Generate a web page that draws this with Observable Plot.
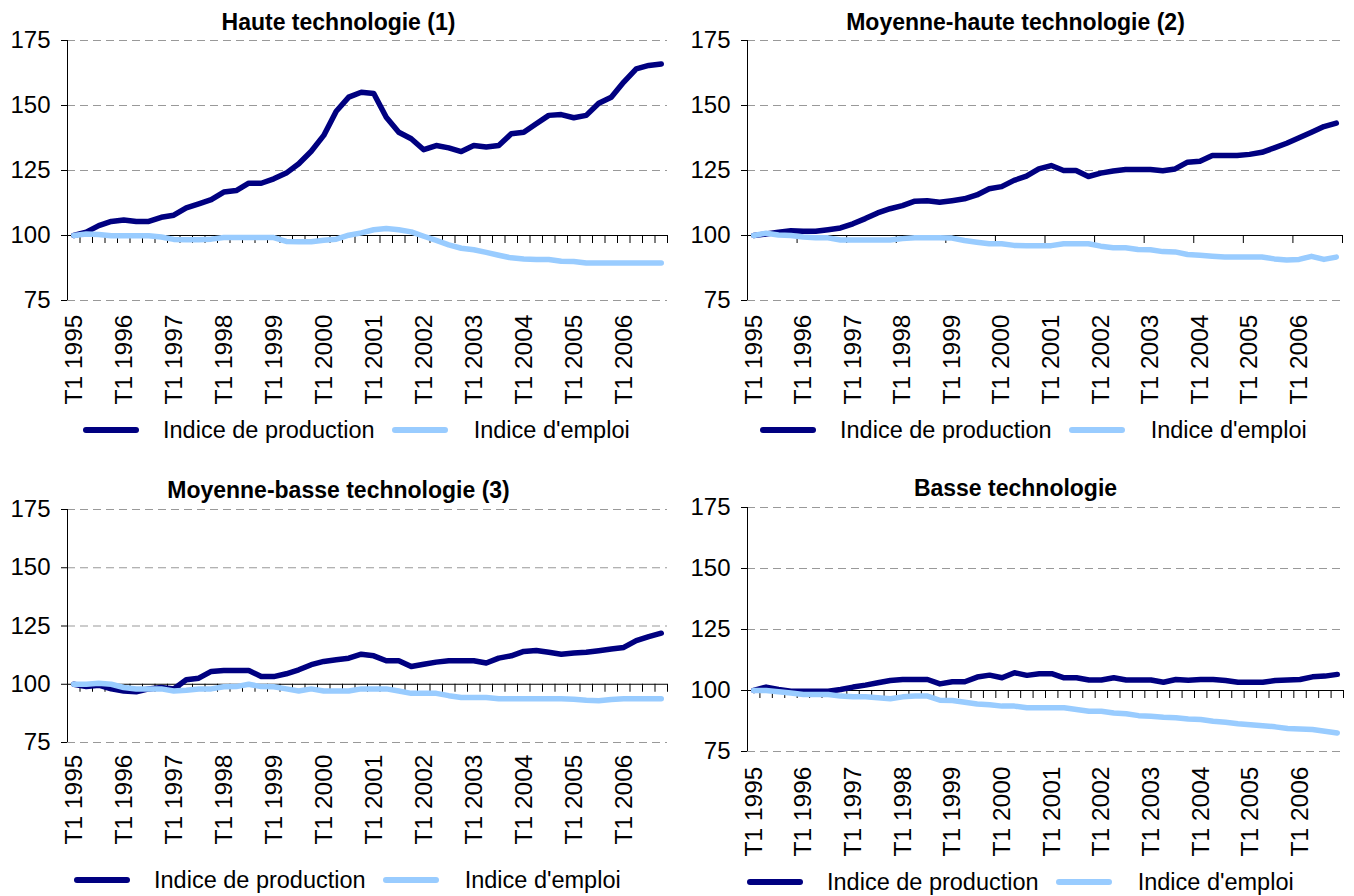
<!DOCTYPE html>
<html>
<head>
<meta charset="utf-8">
<script src="https://cdn.jsdelivr.net/npm/d3@7"></script>
<script src="https://cdn.jsdelivr.net/npm/@observablehq/plot@0.6"></script>
<style>
html, body { margin: 0; padding: 0; background: #fff; }
#root { position: relative; width: 1354px; height: 896px; overflow: hidden; font-family: "Liberation Sans", Arial, sans-serif; color: #000; background: #fff; }
.panel { position: absolute; }
.title { position: absolute; width: 677px; text-align: center; font-weight: bold; font-size: 23px; line-height: 24px; white-space: nowrap; }
.legend { position: absolute; display: flex; align-items: center; font-size: 23.5px; line-height: 24px; height: 24px; white-space: nowrap; }
.legend svg { display: block; }
</style>
</head>
<body>
<div id="root"></div>
<script>
// ---- categories (quarters) ----
const quarters = [
  "T1 1995","T2 1995","T3 1995","T4 1995",
  "T1 1996","T2 1996","T3 1996","T4 1996",
  "T1 1997","T2 1997","T3 1997","T4 1997",
  "T1 1998","T2 1998","T3 1998","T4 1998",
  "T1 1999","T2 1999","T3 1999","T4 1999",
  "T1 2000","T2 2000","T3 2000","T4 2000",
  "T1 2001","T2 2001","T3 2001","T4 2001",
  "T1 2002","T2 2002","T3 2002","T4 2002",
  "T1 2003","T2 2003","T3 2003","T4 2003",
  "T1 2004","T2 2004","T3 2004","T4 2004",
  "T1 2005","T2 2005","T3 2005","T4 2005",
  "T1 2006","T2 2006","T3 2006","T4 2006"
];
const xTickLabels = ["T1 1995","T1 1996","T1 1997","T1 1998","T1 1999","T1 2000",
                     "T1 2001","T1 2002","T1 2003","T1 2004","T1 2005","T1 2006"];
const yTicks = [75, 100, 125, 150, 175];
const gridValues = [75, 125, 150, 175];
const seriesNames = ["Indice de production", "Indice d'emploi"];
const seriesColors = ["#000080", "#99CCFF"];
const panelTitles = ["Haute technologie (1)", "Moyenne-haute technologie (2)",
                     "Moyenne-basse technologie (3)", "Basse technologie"];

// ---- series values ----
const prodHaute = [100, 101.3, 103.8, 105.4, 106, 105.4, 105.4, 107, 107.8, 110.6,
  112.2, 113.8, 116.7, 117.3, 120.1, 120.1, 121.8, 124, 127.6, 132.4,
  138.5, 147.8, 153.2, 155.1, 154.6, 145.5, 139.7, 137.2, 133, 134.6,
  133.7, 132.3, 134.6, 134, 134.6, 139.1, 139.7, 143, 146.2, 146.5,
  145.3, 146.2, 150.9, 153.2, 159, 164.1, 165.4, 166];
const empHaute = [100, 100.6, 100.4, 99.9, 99.9, 99.9, 99.9, 99.4, 98.5, 98.4,
  98.4, 98.6, 99.2, 99.2, 99.2, 99.2, 99.2, 97.7, 97.6, 97.6,
  98.2, 98.6, 100.1, 101, 102.2, 102.7, 102.2, 101.4, 99.7, 98.1,
  96.4, 95.1, 94.5, 93.5, 92.4, 91.4, 91, 90.8, 90.8, 90.1,
  90, 89.4, 89.4, 89.4, 89.4, 89.4, 89.4, 89.4];

const prodMoyHaute = [100, 100.6, 101.3, 101.8, 101.6, 101.6, 102.2, 102.9, 104.5, 106.5,
  108.7, 110.3, 111.5, 113.2, 113.4, 112.8, 113.4, 114.1, 115.6, 118,
  118.8, 121.2, 122.8, 125.6, 126.9, 125, 125, 122.7, 124, 124.8,
  125.4, 125.4, 125.4, 124.9, 125.6, 128.2, 128.6, 130.8, 130.8, 130.8,
  131.2, 132, 133.7, 135.5, 137.6, 139.7, 141.9, 143.2];
const empMoyHaute = [100, 100.9, 100.2, 100, 99.4, 99.1, 99.1, 98.3, 98.3, 98.3,
  98.3, 98.3, 98.8, 99.1, 99.1, 99.1, 99, 98.1, 97.4, 96.8,
  96.8, 96.2, 96.1, 96.1, 96.1, 96.8, 96.8, 96.8, 95.9, 95.3,
  95.3, 94.6, 94.5, 93.8, 93.7, 92.7, 92.4, 92, 91.7, 91.7,
  91.7, 91.7, 91, 90.6, 90.8, 92, 90.8, 91.7];

const prodMoyBasse = [100, 99, 99.6, 98, 97.1, 96.8, 98, 98.6, 98, 101.9,
  102.6, 105.5, 105.9, 105.9, 105.9, 103.3, 103.3, 104.5, 106.2, 108.4,
  109.8, 110.5, 111.2, 112.9, 112.2, 110.1, 110.1, 107.6, 108.6, 109.5,
  110.1, 110.1, 110.1, 109.1, 111.2, 112.2, 114.1, 114.5, 113.7, 112.9,
  113.4, 113.7, 114.4, 115.1, 115.8, 118.7, 120.4, 121.9];
const empMoyBasse = [100, 100, 100.4, 100, 98.6, 98, 98, 98, 97.1, 97.4,
  98, 98, 98.9, 99, 100, 99, 98.9, 98, 97.1, 98,
  97.1, 97.1, 97.1, 98, 98, 98, 97.1, 96.1, 96.1, 96.1,
  95.1, 94.3, 94.3, 94.3, 93.8, 93.8, 93.8, 93.8, 93.8, 93.8,
  93.6, 93.1, 92.9, 93.5, 93.8, 93.8, 93.8, 93.8];

const prodBasse = [100, 101.4, 100.4, 99.7, 99.7, 99.7, 99.7, 100.4, 101.4, 102.2,
  103.2, 104.1, 104.5, 104.5, 104.5, 102.7, 103.6, 103.6, 105.5, 106.3,
  105.2, 107.3, 106.2, 106.9, 106.9, 105.2, 105.2, 104.3, 104.3, 105.2,
  104.3, 104.3, 104.3, 103.4, 104.5, 104.2, 104.5, 104.5, 104.1, 103.4,
  103.4, 103.4, 104.1, 104.3, 104.5, 105.6, 105.9, 106.6];
const empBasse = [100, 100, 99.5, 99, 98.4, 98.4, 98.4, 97.7, 97.4, 97.4,
  97, 96.6, 97.4, 97.7, 97.7, 96, 95.9, 95.2, 94.5, 94.2,
  93.6, 93.6, 92.9, 92.9, 92.9, 92.9, 92.2, 91.5, 91.5, 90.8,
  90.5, 89.7, 89.4, 89, 88.8, 88.3, 88.1, 87.4, 87, 86.4,
  86, 85.6, 85.1, 84.4, 84.2, 84, 83.3, 82.6];

// ---- panel layout ----
const panels = [
  {title: panelTitles[0], prod: prodHaute, emp: empHaute, tickEvery: 1,
   left: 0, top: 0, width: 677, height: 410, mL: 67, mR: 10, mT: 40, mB: 110, pad: 14,
   titleTop: 10, legendLeft: 83, legendY: 430},
  {title: panelTitles[1], prod: prodMoyHaute, emp: empMoyHaute, tickEvery: 4,
   left: 677, top: 0, width: 677, height: 410, mL: 70, mR: 12, mT: 40, mB: 110, pad: 14,
   titleTop: 10, legendLeft: 760, legendY: 430},
  {title: panelTitles[2], prod: prodMoyBasse, emp: empMoyBasse, tickEvery: 1,
   left: 0, top: 450, width: 677, height: 400, mL: 67, mR: 10, mT: 59, mB: 108, pad: 12,
   titleTop: 478, legendLeft: 74, legendY: 880},
  {title: panelTitles[3], prod: prodBasse, emp: empBasse, tickEvery: 1,
   left: 677, top: 450, width: 677, height: 400, mL: 70, mR: 11, mT: 57, mB: 99, pad: 15,
   titleTop: 476, legendLeft: 747, legendY: 882}
];

const root = document.getElementById("root");
const labelIdx = xTickLabels.map(l => quarters.indexOf(l));

function makePlot(p) {
  const rows = quarters.map((q, i) => ({i, q, prod: p.prod[i], emp: p.emp[i]}));
  const bounds = quarters.map((q, i) => i + 0.5).filter((b, i) => (i + 1) % p.tickEvery === 0);
  const svg = Plot.plot({
    width: p.width, height: p.height,
    marginLeft: p.mL, marginRight: p.mR, marginTop: p.mT, marginBottom: p.mB,
    style: {fontFamily: '"Liberation Sans", Arial, sans-serif', fontSize: "23px", color: "#000", background: "none", overflow: "visible"},
    x: {domain: [-0.5, quarters.length - 0.5], axis: null},
    y: {domain: [75, 175], axis: null},
    marks: [
      Plot.ruleY(gridValues, {stroke: "#999999", strokeWidth: 1, strokeDasharray: "8,5"}),
      Plot.ruleX([-0.5], {stroke: "#000", strokeWidth: 1}),
      Plot.axisY({ticks: yTicks, tickSize: 6, tickPadding: 11, label: null, stroke: "#000"}),
      Plot.ruleY([100], {stroke: "#000", strokeWidth: 1}),
      Plot.ruleX(bounds, {x: d => d, y1: 100, y2: 100, insetBottom: -8, stroke: "#000", strokeWidth: 1}),
      Plot.axisX({ticks: labelIdx, tickFormat: i => quarters[i], tickRotate: -90, tickSize: 0,
                  tickPadding: p.pad, label: null}),
      Plot.line(rows, {x: "i", y: "prod", stroke: seriesColors[0], strokeWidth: 5.5}),
      Plot.line(rows, {x: "i", y: "emp", stroke: seriesColors[1], strokeWidth: 5.5})
    ]
  });
  // text sizes of the two axes (rotated labels are the x axis)
  d3.select(svg).selectAll("text").each(function () {
    const tr = this.getAttribute("transform") || "";
    const parentTr = (this.parentNode && this.parentNode.getAttribute && this.parentNode.getAttribute("transform")) || "";
    if (tr.includes("rotate") || parentTr.includes("rotate")) {
      this.style.fontSize = "24.5px";
    } else {
      this.style.fontSize = "24px";
    }
  });
  return svg;
}

function makeLegend(left, cy) {
  const div = document.createElement("div");
  div.className = "legend";
  div.style.left = left + "px";
  div.style.top = (cy - 12) + "px";
  const ns = "http://www.w3.org/2000/svg";
  seriesNames.forEach((name, k) => {
    const svg = document.createElementNS(ns, "svg");
    svg.setAttribute("width", 56);
    svg.setAttribute("height", 10);
    svg.style.marginRight = (k === 0 ? 24 : 26) + "px";
    if (k > 0) svg.style.marginLeft = "17px";
    const line = document.createElementNS(ns, "line");
    line.setAttribute("x1", 3); line.setAttribute("x2", 53);
    line.setAttribute("y1", 5); line.setAttribute("y2", 5);
    line.setAttribute("stroke", seriesColors[k]);
    line.setAttribute("stroke-width", 6);
    line.setAttribute("stroke-linecap", "round");
    svg.appendChild(line);
    div.appendChild(svg);
    const span = document.createElement("span");
    span.textContent = name;
    div.appendChild(span);
  });
  return div;
}

panels.forEach(p => {
  const wrap = document.createElement("div");
  wrap.className = "panel";
  wrap.style.left = p.left + "px";
  wrap.style.top = p.top + "px";
  wrap.appendChild(makePlot(p));
  root.appendChild(wrap);

  const t = document.createElement("div");
  t.className = "title";
  t.style.left = p.left + "px";
  t.style.top = p.titleTop + "px";
  t.textContent = p.title;
  root.appendChild(t);

  root.appendChild(makeLegend(p.legendLeft, p.legendY));
});
</script>
</body>
</html>
